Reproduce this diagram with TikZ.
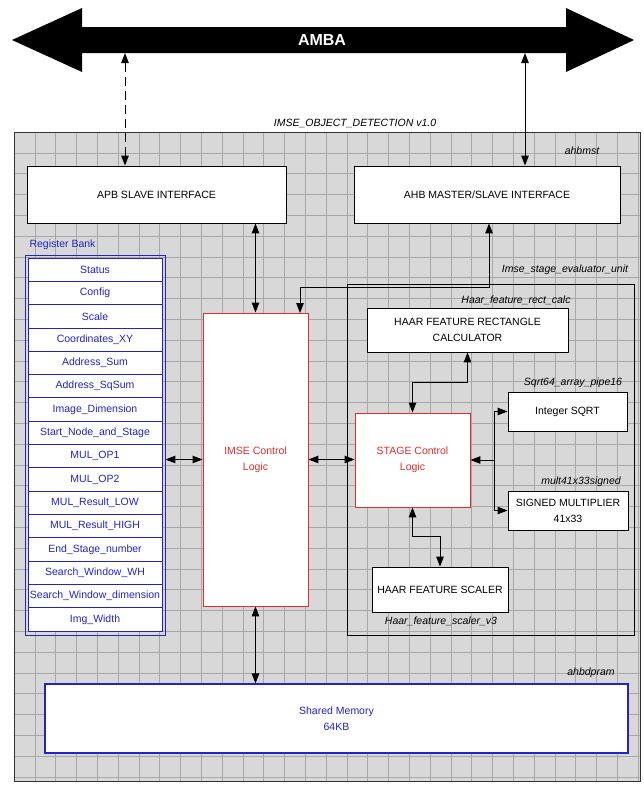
\documentclass[tikz,border=0pt]{standalone}
\usepackage{fontspec}
\setmainfont{Liberation Sans}
\usetikzlibrary{arrows.meta,calc}
\definecolor{regblue}{RGB}{35,35,200}
\definecolor{ctlred}{RGB}{225,45,45}
\definecolor{gridbg}{RGB}{216,216,216}
\definecolor{gridline}{RGB}{168,168,168}

\begin{document}
\begin{tikzpicture}[x=1pt, y=-1pt,
  font=\fontsize{10.5}{16}\selectfont,
  blk/.style={draw, fill=white, line width=0.9pt, align=center, inner sep=0pt},
  ctl/.style={blk, draw=ctlred, text=ctlred},
  reg/.style={draw=regblue, fill=white, text=regblue, line width=0.8pt,
    minimum width=134pt, minimum height=23.3pt, inner sep=0pt},
  tag/.style={font=\fontsize{10.5}{12}\selectfont\itshape},
  arr/.style={-{Triangle[length=10pt,width=7.5pt]}, line width=1pt},
  biarr/.style={{Triangle[length=10pt,width=7.5pt]}-{Triangle[length=10pt,width=7.5pt]}, line width=1pt},
]
\useasboundingbox (0,0) rectangle (644,787);

% bus
\fill (12,40) -- (82,8) -- (82,27) -- (566,27) -- (566,8) -- (634,40)
  -- (566,72) -- (566,53) -- (82,53) -- (82,72) -- cycle;
\node[text=white, font=\fontsize{16}{16}\selectfont\bfseries] (amba) at (322,40) {AMBA};
\node[tag] (title) at (355,123) {IMSE\_OBJECT\_DETECTION v1.0};

% grid sheet
\fill[gridbg] (14,132) rectangle (640,781);
\foreach \gx in {0,...,30}
  \draw[gridline, line width=0.4pt] ({14+20.8*\gx},132) -- ({14+20.8*\gx},781);
\foreach \gy in {0,...,31}
  \draw[gridline, line width=0.4pt] (14,{132+20.8*\gy}) -- (640,{132+20.8*\gy});
\draw[line width=0.8pt, black!80] (14,132) rectangle (640,781);

% interfaces
\node[blk, minimum width=259pt, minimum height=57pt] (apb) at (156.5,194.5) {APB SLAVE INTERFACE};
\node[blk, minimum width=266pt, minimum height=57pt] (ahb) at (487,194.5) {AHB MASTER/SLAVE INTERFACE};
\node[tag] (ahbmst) at (582,151) {ahbmst};

% register bank
\node[text=regblue, anchor=west] (reglbl) at (26,245) {Register Bank};
\node[draw=regblue, line width=0.8pt, minimum width=140pt, minimum height=380pt, inner sep=0pt] (regbank) at (95,445) {};
\foreach \r [count=\i] in {Status, Config, Scale, Coordinates\_XY, Address\_Sum,
    Address\_SqSum, Image\_Dimension, Start\_Node\_and\_Stage, MUL\_OP1, MUL\_OP2,
    MUL\_Result\_LOW, MUL\_Result\_HIGH, End\_Stage\_number, Search\_Window\_WH,
    Search\_Window\_dimension, Img\_Width}
  \node[reg] (reg\i) at (95,{258+23.3125*(\i-0.5)}) {\r};

% control
\node[ctl, minimum width=105pt, minimum height=293pt] (imse) at (255.5,459.5) {IMSE Control\\Logic};

% stage evaluator
\node[draw, line width=0.9pt, minimum width=287pt, minimum height=351pt, inner sep=0pt] (evalunit) at (490.5,459.5) {};
\node[tag] (evallbl) at (565,270) {Imse\_stage\_evaluator\_unit};
\node[blk, minimum width=201pt, minimum height=44pt] (rectcalc) at (467.5,330) {HAAR FEATURE RECTANGLE\\CALCULATOR};
\node[tag] (rectlbl) at (516,300) {Haar\_feature\_rect\_calc};
\node[ctl, minimum width=115pt, minimum height=94pt] (stage) at (412.5,460) {STAGE Control\\Logic};
\node[blk, minimum width=119pt, minimum height=39pt] (sqrt) at (567.5,411.5) {Integer SQRT};
\node[tag] (sqrtlbl) at (573,383) {Sqrt64\_array\_pipe16};
\node[blk, minimum width=120pt, minimum height=39pt] (mult) at (568,510.5) {SIGNED MULTIPLIER\\41x33};
\node[tag] (multlbl) at (581,482) {mult41x33signed};
\node[blk, minimum width=136pt, minimum height=45pt] (scaler) at (440,589.5) {HAAR FEATURE SCALER};
\node[tag] (scalerlbl) at (441,621) {Haar\_feature\_scaler\_v3};

% memory
\node[blk, draw=regblue, text=regblue, line width=1.2pt, minimum width=583pt, minimum height=69pt] (shmem) at (336.5,718.5) {Shared Memory\\64KB};
\node[tag] (shmemlbl) at (591,673) {ahbdpram};

% links
\coordinate (ambaL) at (125,53);
\coordinate (ambaR) at (525,53);
\draw[biarr, dash pattern=on 9pt off 5pt] (ambaL) -- (ambaL |- apb.north);
\draw[biarr] (ambaR) -- (ambaR |- ahb.north);
\draw[biarr] (apb.south -| imse.north) -- (imse.north);
\coordinate (ahbtap) at (489,287);
\coordinate (imsetap) at (300,313);
\draw[biarr] (ahb.south -| ahbtap) -- (ahbtap) -| (imsetap);
\draw[biarr] (regbank.east |- imse.west) -- (imse.west);
\draw[biarr] (imse.east) -- (imse.east -| stage.west);
\draw[biarr] (rectcalc.south) |- ($(stage.north)+(0,-30)$) -- (stage.north);
\draw[biarr] (stage.south) |- ($(scaler.north)+(0,-30)$) -- (scaler.north);
\coordinate (fork) at (494,460);
\draw[arr] (fork) -- (fork -| stage.east);
\draw[arr] (fork) |- (sqrt.west);
\draw[arr] (fork) |- (mult.west);
\draw[biarr] (imse.south) -- (imse.south |- shmem.north);
\end{tikzpicture}
\end{document}
